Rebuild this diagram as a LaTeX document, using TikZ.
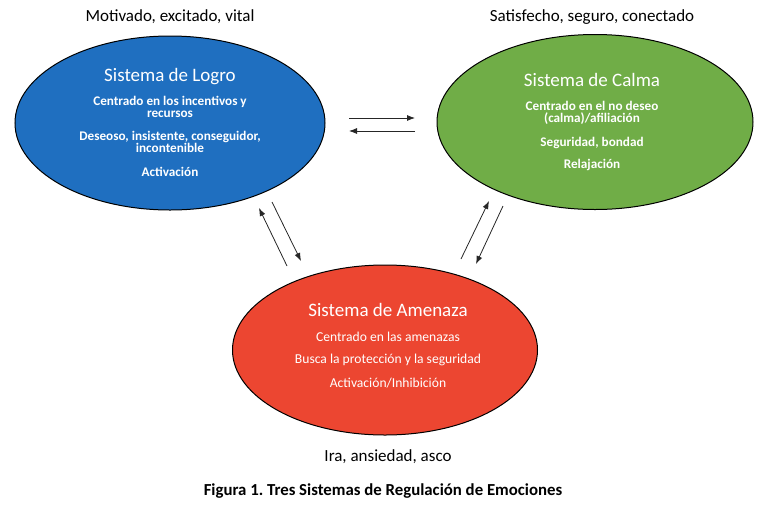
\documentclass[tikz,border=0pt]{standalone}
\usepackage{fontspec}
\setmainfont{Carlito}
\usetikzlibrary{shapes.geometric,arrows.meta}
\definecolor{logro}{HTML}{1F6FC0}
\definecolor{calma}{HTML}{70AD47}
\definecolor{amenaza}{HTML}{EC4631}
\frenchspacing
\tikzset{
  sys/.style={ellipse, draw=black, line width=1pt, inner sep=0pt},
  ttl/.style={text=white, font=\fontsize{19}{21}\selectfont, inner sep=0pt},
  bodyb/.style={text=white, font=\bfseries\fontsize{13.2}{12.5}\selectfont, align=center, inner sep=0pt},
  bodyr/.style={text=white, font=\fontsize{13.6}{13}\selectfont, align=center, inner sep=0pt},
  lbl/.style={text=black, font=\fontsize{17}{19}\selectfont, inner sep=0pt},
  captext/.style={text=black, font=\bfseries\fontsize{16.8}{19}\selectfont, inner sep=0pt},
  arr/.style={-{Latex[length=8pt,width=6pt]}, line width=0.8pt, draw=black!85}
}
\begin{document}
\begin{tikzpicture}[x=1pt,y=-1pt]
\useasboundingbox (0,0) rectangle (768,512);
% ellipses
\node[sys, fill=logro, minimum width=310pt, minimum height=174pt] (logro) at (170,123) {};
\node[sys, fill=calma, minimum width=316pt, minimum height=175pt] (calma) at (595,122) {};
\node[sys, fill=amenaza, minimum width=305pt, minimum height=170pt] (amenaza) at (385,350) {};
% Logro texts
\node[ttl] (logroT) at (170,77) {Sistema de Logro};
\node[bodyb] (logro1) at (170,107) {Centrado en los incentivos y\\recursos};
\node[bodyb] (logro2) at (170,142) {Deseoso, insistente, conseguidor,\\incontenible};
\node[bodyb] (logro3) at (170,172) {Activación};
% Calma texts
\node[ttl] (calmaT) at (592,80) {Sistema de Calma};
\node[bodyb] (calma1) at (592,113) {Centrado en el no deseo\\(calma)/afiliación};
\node[bodyb] (calma2) at (592,143) {Seguridad, bondad};
\node[bodyb] (calma3) at (592,165) {Relajación};
% Amenaza texts
\node[ttl] (amenT) at (388,310) {Sistema de Amenaza};
\node[bodyr] (amen1) at (388,337) {Centrado en las amenazas};
\node[bodyr] (amen2) at (388,360) {Busca la protección y la seguridad};
\node[bodyr] (amen3) at (388,383) {Activación/Inhibición};
% labels
\node[lbl] (lblL) at (170,17) {Motivado, excitado, vital};
\node[lbl] (lblC) at (592,17) {Satisfecho, seguro, conectado};
\node[lbl] (lblA) at (388,457) {Ira, ansiedad, asco};
\node[captext] (caption) at (383,491) {Figura 1. Tres Sistemas de Regulación de Emociones};
% arrow endpoints
\coordinate (h1s) at (349,118); \coordinate (h1e) at (415,118);
\coordinate (h2s) at (415,131); \coordinate (h2e) at (349,131);
\coordinate (l1s) at (287,266); \coordinate (l1e) at (259,208);
\coordinate (l2s) at (272,202); \coordinate (l2e) at (301,261);
\coordinate (r1s) at (461,259); \coordinate (r1e) at (489,201);
\coordinate (r2s) at (503,206); \coordinate (r2e) at (476,264);
\draw[arr] (h1s) -- (h1e);
\draw[arr] (h2s) -- (h2e);
\draw[arr] (l1s) -- (l1e);
\draw[arr] (l2s) -- (l2e);
\draw[arr] (r1s) -- (r1e);
\draw[arr] (r2s) -- (r2e);
\end{tikzpicture}
\end{document}
